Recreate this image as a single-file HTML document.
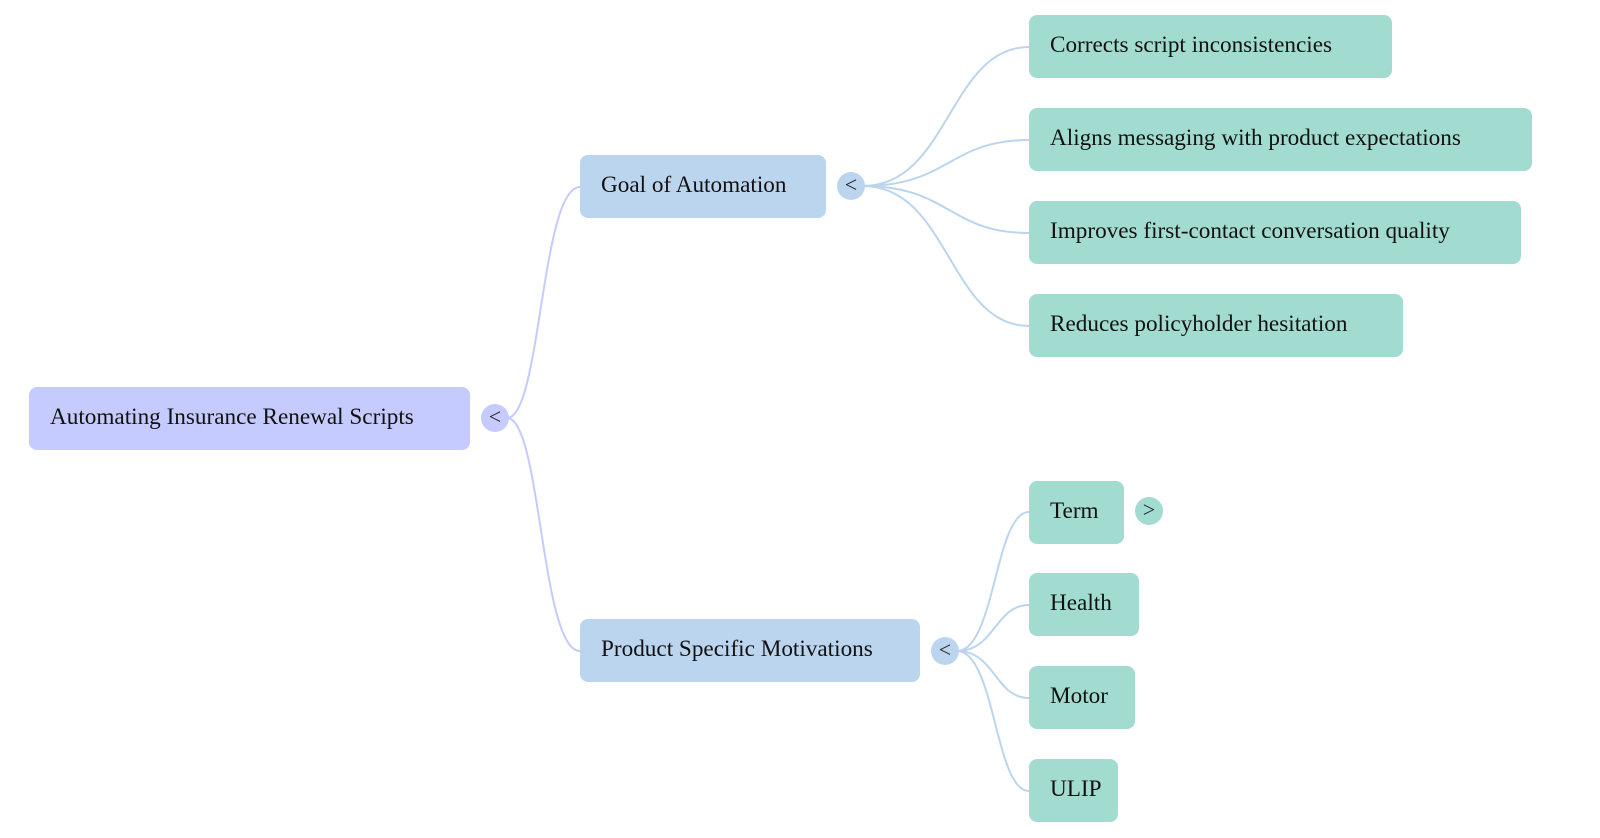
<!DOCTYPE html>
<html><head><style>
body{margin:0;width:1600px;height:838px;background:#fff;position:relative;overflow:hidden;font-family:"Liberation Serif",serif;}
.n{position:absolute;height:63px;line-height:60px;border-radius:8px;padding-left:21px;box-sizing:border-box;font-size:23.2px;color:#111;white-space:nowrap;}
.r{background:#c5cbff}.g{background:#bcd5ef}.l{background:#a2dcd0}
.c{position:absolute;width:28px;height:28px;border-radius:50%;text-align:center;line-height:26px;font-size:22px;color:#222;}
svg{position:absolute;left:0;top:0}
</style></head><body>
<svg width="1600" height="838" fill="none" stroke-width="2">
<g stroke="#c5cbff">
<path d="M507 418 C541 418,541 187,580 187"/>
<path d="M507 418 C541 418,541 651,580 651"/>
</g>
<g stroke="#bcd5ef">
<path d="M863 186 C949 186,949 47,1029 47"/>
<path d="M863 186 C949 186,949 140,1029 140"/>
<path d="M863 186 C949 186,949 233,1029 233"/>
<path d="M863 186 C949 186,949 326,1029 326"/>
<path d="M957 651 C995 651,995 512,1029 512"/>
<path d="M957 651 C995 651,995 605,1029 605"/>
<path d="M957 651 C995 651,995 698,1029 698"/>
<path d="M957 651 C995 651,995 791,1029 791"/>
</g>
</svg>
<div class="n r" style="left:29px;top:387px;width:441px">Automating Insurance Renewal Scripts</div>
<div class="c" style="left:481px;top:404px;background:#c5cbff">&lt;</div>
<div class="n g" style="left:580px;top:155px;width:246px">Goal of Automation</div>
<div class="c" style="left:837px;top:172px;background:#bcd5ef">&lt;</div>
<div class="n g" style="left:580px;top:619px;width:340px">Product Specific Motivations</div>
<div class="c" style="left:931px;top:637px;background:#bcd5ef">&lt;</div>
<div class="n l" style="left:1029px;top:15px;width:363px">Corrects script inconsistencies</div>
<div class="n l" style="left:1029px;top:108px;width:503px">Aligns messaging with product expectations</div>
<div class="n l" style="left:1029px;top:201px;width:492px">Improves first-contact conversation quality</div>
<div class="n l" style="left:1029px;top:294px;width:374px">Reduces policyholder hesitation</div>
<div class="n l" style="left:1029px;top:481px;width:95px">Term</div>
<div class="c" style="left:1135px;top:497px;background:#a2dcd0">&gt;</div>
<div class="n l" style="left:1029px;top:573px;width:110px">Health</div>
<div class="n l" style="left:1029px;top:666px;width:106px">Motor</div>
<div class="n l" style="left:1029px;top:759px;width:89px">ULIP</div>
</body></html>
